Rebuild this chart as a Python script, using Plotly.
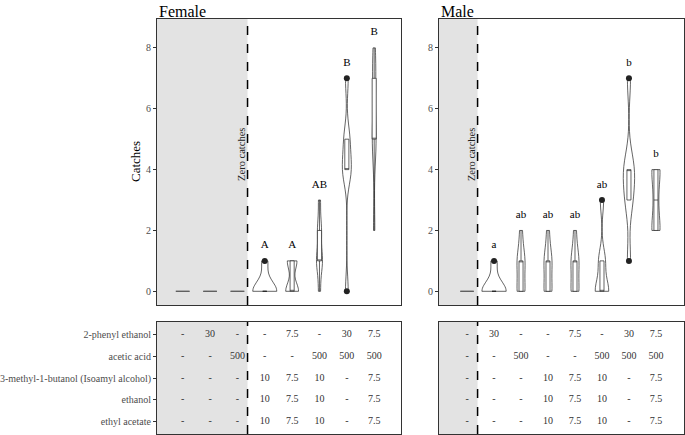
import plotly.graph_objects as go

# ---------------- data ----------------
positions = [1, 2, 3, 4, 5, 6, 7, 8]

female_catches = [
    [0, 0, 0, 0, 0, 0],
    [0, 0, 0, 0, 0, 0],
    [0, 0, 0, 0, 0, 0],
    [0, 0, 0, 0, 1],
    [0, 0, 0, 0, 1, 1, 1],
    [0, 1, 1, 1, 2, 2, 3],
    [0, 4, 4, 4, 5, 5, 7],
    [2, 5, 5, 5, 7, 7, 8],
]
female_letters = ["", "", "", "A", "A", "AB", "B", "B"]

male_catches = [
    [0, 0, 0, 0, 0, 0],
    [0, 0, 0, 0, 1],
    [0, 0, 0, 1, 1, 1, 2],
    [0, 0, 0, 1, 1, 1, 2],
    [0, 0, 0, 1, 1, 1, 2],
    [0, 0, 0, 0, 1, 1, 3],
    [1, 3, 3, 4, 4, 4, 7],
    [2, 2, 3, 4, 4],
]
male_letters = ["", "a", "ab", "ab", "ab", "ab", "b", "b"]

compounds = ["2-phenyl ethanol", "acetic acid",
             "3-methyl-1-butanol (Isoamyl alcohol)", "ethanol", "ethyl acetate"]

female_table = [
    ["-", "30", "-", "-", "7.5", "-", "30", "7.5"],
    ["-", "-", "500", "-", "-", "500", "500", "500"],
    ["-", "-", "-", "10", "7.5", "10", "-", "7.5"],
    ["-", "-", "-", "10", "7.5", "10", "-", "7.5"],
    ["-", "-", "-", "10", "7.5", "10", "-", "7.5"],
]
male_table = [
    ["-", "30", "-", "-", "7.5", "-", "30", "7.5"],
    ["-", "-", "500", "-", "-", "500", "500", "500"],
    ["-", "-", "-", "10", "7.5", "10", "-", "7.5"],
    ["-", "-", "-", "10", "7.5", "10", "-", "7.5"],
    ["-", "-", "-", "10", "7.5", "10", "-", "7.5"],
]
yticks = [0, 2, 4, 6, 8]

# ---------------- style ----------------
FONT = "Liberation Serif, Times New Roman, serif"
W, H = 685, 435
female_violin_w = [0, 0, 0, 0.88, 0.47, 0.22, 0.33, 0.14]
female_bw = [0, 0, 0, 0.33, 0.3, 0.4, 0.5, 0.8]
male_violin_w = [0, 0.9, 0.3, 0.3, 0.3, 0.5, 0.42, 0.3]
male_bw = [0, 0.33, 0.45, 0.45, 0.45, 0.4, 0.6, 0.5]
female_zero_cols = 3
male_zero_cols = 1
female_xrange = [0.06, 8.98]
male_xrange = [-0.04, 9.04]
yrange = [-0.45, 8.95]
trange = [5.55, 0.45]
INK = "#222222"

fig = go.Figure()


def add_panel(catches, letters, vwidths, bws, xa, ya):
    for pos, d, w, bw_ in zip(positions, catches, vwidths, bws):
        if max(d) > min(d):
            fig.add_trace(go.Violin(
                x0=pos, y=d, width=w, bandwidth=bw_, spanmode="hard", scalemode="width",
                fillcolor="white", line=dict(color=INK, width=0.7),
                points=False, box_visible=False, meanline_visible=False,
                hoverinfo="skip", showlegend=False, xaxis=xa, yaxis=ya))
            bw, lc = 0.15, INK
        else:
            bw, lc = 0.5, "#555555"
        fig.add_trace(go.Box(
            x0=pos, y=d, width=bw, fillcolor="white", quartilemethod="inclusive",
            line=dict(color=lc, width=0.7), whiskerwidth=0,
            boxpoints="outliers", jitter=0, pointpos=0,
            marker=dict(color=INK, size=6),
            hoverinfo="skip", showlegend=False, xaxis=xa, yaxis=ya))
    lx = [p for p, l in zip(positions, letters) if l]
    ly = [max(d) + 0.5 for d, l in zip(catches, letters) if l]
    lt = [l for l in letters if l]
    fig.add_trace(go.Scatter(x=lx, y=ly, text=lt, mode="text",
                             textfont=dict(family=FONT, size=11, color="black"),
                             hoverinfo="skip", showlegend=False, xaxis=xa, yaxis=ya))


def add_table(table, xa, ya):
    xs, ys, ts = [], [], []
    for r, row in enumerate(table):
        for c, v in enumerate(row):
            xs.append(positions[c])
            ys.append(r + 1)
            ts.append(v)
    fig.add_trace(go.Scatter(x=xs, y=ys, text=ts, mode="text",
                             textfont=dict(family=FONT, size=10, color="#333333"),
                             hoverinfo="skip", showlegend=False, xaxis=xa, yaxis=ya))


add_panel(female_catches, female_letters, female_violin_w, female_bw, "x", "y")
add_panel(male_catches, male_letters, male_violin_w, male_bw, "x2", "y2")
add_table(female_table, "x3", "y3")
add_table(male_table, "x4", "y4")

# dashed separators and grey zones
f_dash = female_zero_cols + 0.37
m_dash = male_zero_cols + 0.39
for xr, yr, xrng, dash in [("x", "y", female_xrange, f_dash), ("x2", "y2", male_xrange, m_dash),
                            ("x3", "y3", female_xrange, f_dash), ("x4", "y4", male_xrange, m_dash)]:
    fig.add_shape(type="rect", xref=xr, yref=yr + " domain", x0=xrng[0], x1=dash, y0=0, y1=1,
                  fillcolor="#e3e3e3", line_width=0, layer="below")
    fig.add_shape(type="line", xref=xr, yref=yr + " domain", x0=dash, x1=dash, y0=0, y1=1,
                  line=dict(color="black", width=1.5, dash="dash"))

# "Zero catches" annotations
for xr, yr, dash in [("x", "y", f_dash), ("x2", "y2", m_dash)]:
    fig.add_annotation(x=dash - 0.22, y=4.5, xref=xr, yref=yr, text="Zero catches",
                       textangle=-90, showarrow=False, xanchor="center", yanchor="middle",
                       font=dict(family=FONT, size=10.5, color=INK))

plot_dom = [1 - 305 / H, 1 - 19 / H]
tab_dom = [1 - 434 / H, 1 - 322 / H]
fdom = [157 / W, 401 / W]
mdom = [439 / W, 684 / W]

ax_common = dict(showline=True, mirror=True, linecolor="#333333", linewidth=1,
                 showgrid=False, zeroline=False)
xhid = dict(showticklabels=False, ticks="", **ax_common)
yplot = dict(range=yrange, tickvals=yticks, ticks="outside", ticklen=3, tickcolor="#333333",
             tickfont=dict(family=FONT, size=10, color="#4d4d4d"), domain=plot_dom, **ax_common)

fig.update_layout(
    width=W, height=H, margin=dict(l=0, r=0, t=0, b=0),
    font=dict(family=FONT, color="black"),
    plot_bgcolor="white", paper_bgcolor="white",
    violinmode="overlay", boxmode="overlay",
    xaxis=dict(domain=fdom, range=female_xrange, anchor="y", **xhid),
    yaxis=dict(anchor="x", **yplot),
    xaxis2=dict(domain=mdom, range=male_xrange, anchor="y2", **xhid),
    yaxis2=dict(anchor="x2", **yplot),
    xaxis3=dict(domain=fdom, range=female_xrange, anchor="y3", **xhid),
    yaxis3=dict(domain=tab_dom, range=trange, anchor="x3", tickvals=[1, 2, 3, 4, 5],
                ticktext=compounds, ticks="outside", ticklen=3, tickcolor="#333333",
                tickfont=dict(family=FONT, size=10, color="#4d4d4d"), **ax_common),
    xaxis4=dict(domain=mdom, range=male_xrange, anchor="y4", **xhid),
    yaxis4=dict(domain=tab_dom, range=trange, anchor="x4", showticklabels=False, ticks="",
                **ax_common),
)

fig.add_annotation(x=157 / W, y=1 - 1 / H, xref="paper", yref="paper", text="Female",
                   xanchor="left", yanchor="top", showarrow=False,
                   font=dict(family=FONT, size=16, color="black"))
fig.add_annotation(x=439 / W, y=1 - 1 / H, xref="paper", yref="paper", text="Male",
                   xanchor="left", yanchor="top", showarrow=False,
                   font=dict(family=FONT, size=16, color="black"))
fig.add_annotation(x=135 / W, y=1 - 162 / H, xref="paper", yref="paper", text="Catches",
                   textangle=-90, showarrow=False, xanchor="center", yanchor="middle",
                   font=dict(family=FONT, size=13, color="black"))

fig.write_html("out.html", config={"displayModeBar": False},
               post_script="document.body.style.margin='0';")
